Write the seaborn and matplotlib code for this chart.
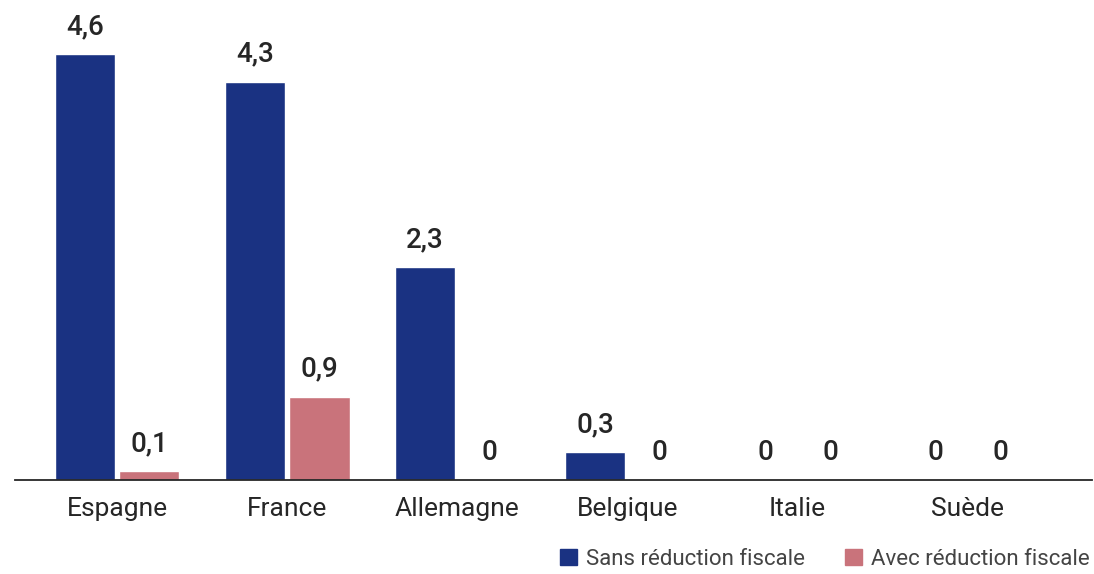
import pandas as pd
import matplotlib.pyplot as plt
import seaborn as sns

countries = ["Espagne", "France", "Allemagne", "Belgique", "Italie", "Suède"]
sans_reduction = [4.6, 4.3, 2.3, 0.3, 0, 0]
avec_reduction = [0.1, 0.9, 0, 0, 0, 0]
series = ["Sans réduction fiscale", "Avec réduction fiscale"]
colors = ["#1a3282", "#c9737b"]

df = pd.DataFrame({
    "pays": countries * 2,
    "valeur": sans_reduction + avec_reduction,
    "serie": [series[0]] * len(countries) + [series[1]] * len(countries),
})

sns.set_style("white")
plt.rcParams['font.family'] = ['Roboto', 'DejaVu Sans']
text_color = "#262626"

fig = plt.figure(figsize=(10.94, 5.74), dpi=100)
ax = fig.add_axes([15 / 1094, 94 / 574, 1077 / 1094, 480 / 574])

sns.barplot(data=df, x="pays", y="valeur", hue="serie", palette=colors,
            width=0.76, gap=0.07, saturation=1, ax=ax, legend=False)

for cont in ax.containers:
    labels = [f"{v:g}".replace(".", ",") for v in cont.datavalues]
    ax.bar_label(cont, labels=labels, padding=10, fontsize=20,
                 fontweight="medium", color=text_color)

ax.set_xlim(-0.6, 5.73)
ax.set_ylim(0, 5.18)
ax.set_xlabel("")
ax.set_ylabel("")
ax.set_yticks([])
ax.tick_params(axis="x", length=0, pad=12, labelsize=19, labelcolor=text_color)
for s in ["top", "right", "left"]:
    ax.spines[s].set_visible(False)
ax.spines["bottom"].set_color(text_color)
ax.spines["bottom"].set_linewidth(1.3)

handles = [plt.Rectangle((0, 0), 1, 1, color=c) for c in colors]
fig.legend(handles, series, loc="lower right", bbox_to_anchor=(1.014, -0.028), ncol=2,
           frameon=False, fontsize=16, handlelength=0.75, handleheight=0.75,
           handletextpad=0.4, columnspacing=1.8, labelcolor="#444444")

fig.savefig("out.png", dpi=100)
